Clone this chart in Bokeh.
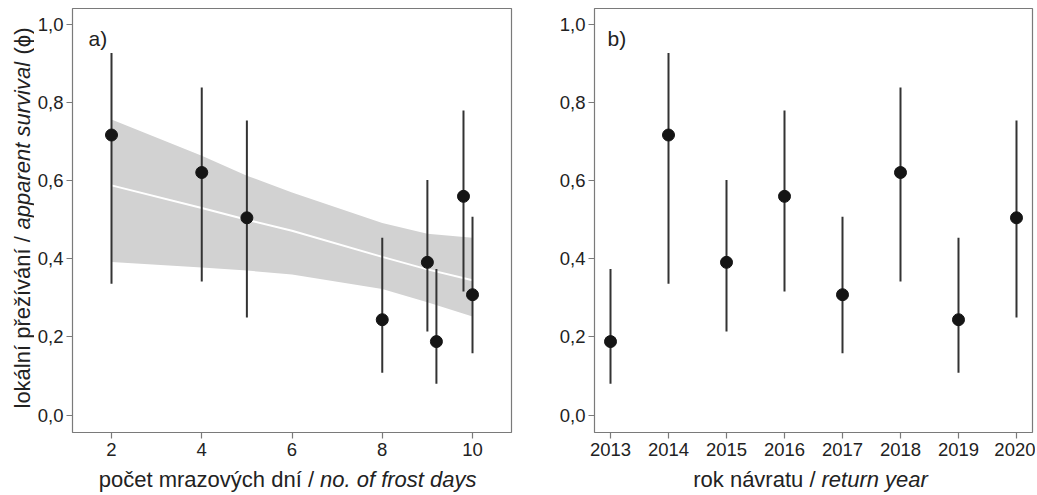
import math
from bokeh.plotting import figure
from bokeh.layouts import row, column
from bokeh.models import Range1d, FixedTicker, Label
from bokeh.core.properties import value
from bokeh.models import ColumnDataSource
from bokeh.embed import file_html
from bokeh.resources import INLINE

# ---------------- data ----------------
frost_days = [2, 4, 5, 8, 9, 9.2, 9.8, 10]
phi_a = [0.717, 0.621, 0.505, 0.244, 0.391, 0.188, 0.560, 0.308]
lo_a = [0.336, 0.342, 0.250, 0.108, 0.214, 0.080, 0.316, 0.158]
hi_a = [0.927, 0.839, 0.754, 0.454, 0.602, 0.374, 0.780, 0.508]

years = [2013, 2014, 2015, 2016, 2017, 2018, 2019, 2020]
phi_b = [0.188, 0.717, 0.391, 0.560, 0.308, 0.621, 0.244, 0.505]
lo_b = [0.080, 0.336, 0.214, 0.316, 0.158, 0.342, 0.108, 0.250]
hi_b = [0.374, 0.927, 0.602, 0.780, 0.508, 0.839, 0.454, 0.754]

fit_x = [2, 4, 5, 6, 8, 9, 10]
fit_y = [0.588, 0.530, 0.500, 0.472, 0.405, 0.373, 0.345]
fit_lo = [0.392, 0.378, 0.370, 0.360, 0.323, 0.289, 0.252]
fit_hi = [0.757, 0.664, 0.613, 0.570, 0.492, 0.464, 0.454]

y_ticks = [0.0, 0.2, 0.4, 0.6, 0.8, 1.0]
y_tick_labels = ["0,0", "0,2", "0,4", "0,6", "0,8", "1,0"]
xa_ticks = [2, 4, 6, 8, 10]
xb_ticks = years

xlabel_a = ("počet mrazových dní /", "no. of frost days")
xlabel_b = ("rok návratu /", "return year")
ylabel_parts = ("lokální přežívání /", "apparent survival", "(ϕ)")

# ---------------- styling / layout ----------------
FONT = "Liberation Sans"
TXT = "#222222"
GRAY = "#7a7a7a"
TOP_H = 466          # height of the plotting row
BORDER_TOP = 8
BORDER_BOTTOM = 34
FRAME_H = TOP_H - BORDER_TOP - BORDER_BOTTOM
STRIP_H = 28         # x-label strip
YLAB_W = 34          # y-label strip
Y0, Y1 = -0.0448, 1.041


def make_fig(xr, left, frame_w, right):
    p = figure(width=left + frame_w + right, height=TOP_H, output_backend="svg",
               toolbar_location=None, x_range=Range1d(*xr), y_range=Range1d(Y0, Y1),
               min_border_left=left, min_border_right=right,
               min_border_top=BORDER_TOP, min_border_bottom=BORDER_BOTTOM)
    p.xgrid.visible = False
    p.ygrid.visible = False
    p.outline_line_color = GRAY
    p.outline_line_width = 1.2
    p.background_fill_color = "white"
    p.border_fill_color = "white"
    for ax in (p.xaxis[0], p.yaxis[0]):
        ax.axis_line_color = None
        ax.major_tick_line_color = GRAY
        ax.major_tick_line_width = 1.2
        ax.major_tick_out = 6
        ax.major_tick_in = 0
        ax.minor_tick_line_color = None
        ax.major_label_text_font = FONT
        ax.major_label_text_font_size = "18.5px"
        ax.major_label_text_color = TXT
    p.yaxis[0].ticker = FixedTicker(ticks=y_ticks)
    p.yaxis[0].major_label_overrides = {t: l for t, l in zip(y_ticks, y_tick_labels)}
    p.yaxis[0].major_label_standoff = 3
    p.xaxis[0].major_label_standoff = 4
    return p


def draw(p, xs, ys, lo, hi):
    src = ColumnDataSource(dict(x=xs, y=ys, lo=lo, hi=hi))
    p.segment(x0="x", y0="lo", x1="x", y1="hi", source=src, line_color="#333333", line_width=2)
    p.scatter(x="x", y="y", source=src, size=12, fill_color="#151515", line_color="#151515")


def panel_letter(p, letter, frame_w, dx, dy):
    xs, xe = p.x_range.start, p.x_range.end
    x = xs + dx * (xe - xs) / frame_w
    y = Y1 - dy * (Y1 - Y0) / FRAME_H
    p.add_layout(Label(x=x, y=y, text=letter, text_align="left", text_baseline="alphabetic",
                       text_font=FONT, text_font_size="21px", text_color=TXT))


def strip(width, height, top=0, bottom=0):
    # blank figure whose frame maps data units 1:1 to pixels
    s = figure(width=width, height=height, output_backend="svg", toolbar_location=None,
               x_range=Range1d(0, width), y_range=Range1d(bottom, height - top),
               x_axis_location=None, y_axis_location=None,
               min_border_left=0, min_border_right=0,
               min_border_top=top, min_border_bottom=bottom)
    s.xgrid.visible = False
    s.ygrid.visible = False
    s.outline_line_color = None
    s.background_fill_color = "white"
    s.border_fill_color = "white"
    return s


# ---------------- panel a ----------------
A_LEFT, A_FW, A_RIGHT = 38, 439, 10
pa = make_fig((1.1357, 10.864), A_LEFT, A_FW, A_RIGHT)
pa.xaxis[0].ticker = FixedTicker(ticks=xa_ticks)
band = ColumnDataSource(dict(x=fit_x, lo=fit_lo, hi=fit_hi, y=fit_y))
pa.varea(x="x", y1="lo", y2="hi", source=band, fill_color="#d2d2d2")
pa.line(x="x", y="y", source=band, line_color="white", line_width=2)
draw(pa, frost_days, phi_a, lo_a, hi_a)
panel_letter(pa, "a)", A_FW, 16, 30)

# ---------------- panel b ----------------
B_LEFT, B_FW, B_RIGHT = 73, 438, 3
pb = make_fig((2012.724, 2020.276), B_LEFT, B_FW, B_RIGHT)
pb.xaxis[0].ticker = FixedTicker(ticks=xb_ticks)
draw(pb, years, phi_b, lo_b, hi_b)
panel_letter(pb, "b)", B_FW, 13, 29.5)

# ---------------- y-axis label strip (mixed styles, rotated) ----------------
# same vertical borders as the panels; data y = TOP_H - pixel-from-top
yl = strip(YLAB_W, TOP_H, BORDER_TOP, BORDER_BOTTOM)
ybase = 21.5
starts = [TOP_H - 408, TOP_H - 229, TOP_H - 54]
common = dict(angle=math.pi / 2, text_font=value(FONT), text_font_size=value("22px"),
              text_color=TXT, text_align=value("left"), text_baseline=value("alphabetic"))
yl.text(x=[ybase], y=[starts[0]], text=[ylabel_parts[0]], **common)
yl.text(x=[ybase], y=[starts[1]], text=[ylabel_parts[1]], text_font_style=value("italic"), **common)
yl.text(x=[ybase], y=[starts[2]], text=[ylabel_parts[2]], **common)

# ---------------- x-axis label strips ----------------
lab_common = dict(text_font=value(FONT), text_font_size=value("22px"), text_color=TXT,
                  text_baseline=value("alphabetic"))
base_y = STRIP_H - 13


def xlabel_strip(width, split, parts):
    s = strip(width, STRIP_H)
    s.text(x=[split], y=[base_y], text=[parts[0]], text_align=value("right"), **lab_common)
    s.text(x=[split + 6], y=[base_y], text=[parts[1]], text_align=value("left"),
           text_font_style=value("italic"), **lab_common)
    return s


WA = YLAB_W + A_LEFT + A_FW + A_RIGHT
WB = B_LEFT + B_FW + B_RIGHT
xa = xlabel_strip(WA, 313.5, xlabel_a)
xb = xlabel_strip(WB, 815 - WA, xlabel_b)

layout = column(row(yl, pa, pb, spacing=0), row(xa, xb, spacing=0), spacing=0)
open("out.html", "w").write(file_html(layout, INLINE))
